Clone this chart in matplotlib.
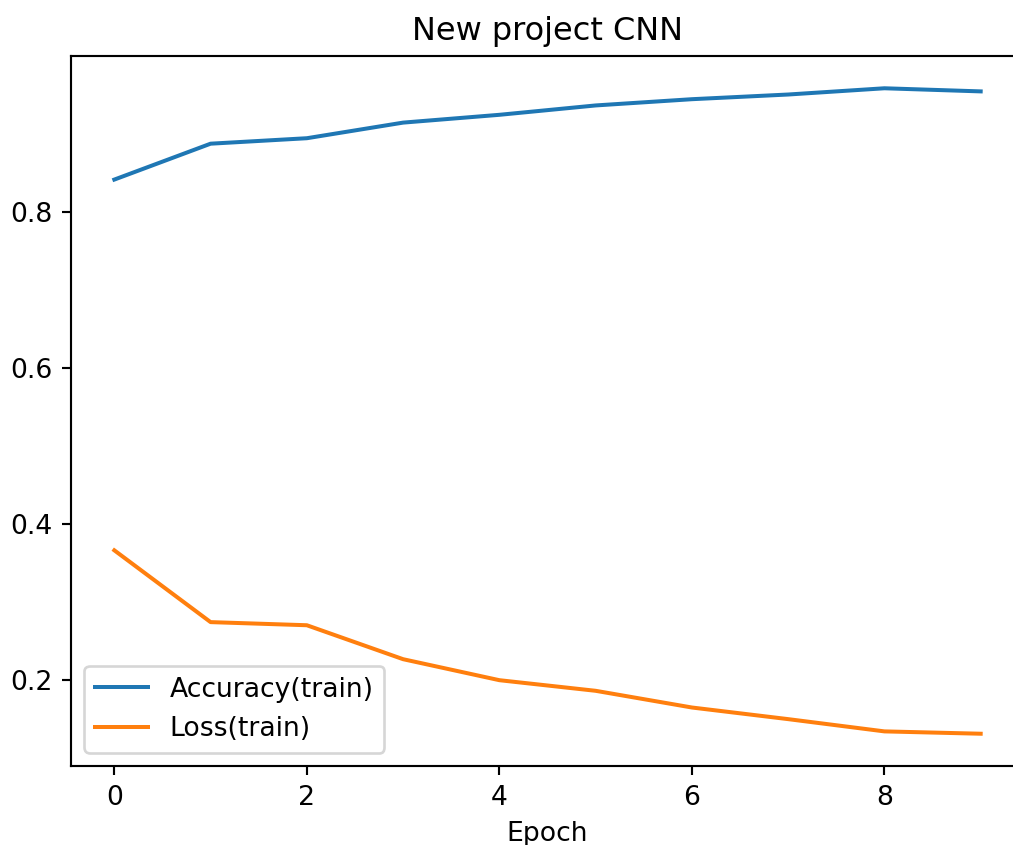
import matplotlib
matplotlib.use("Agg")
import matplotlib.pyplot as plt

epochs = [0, 1, 2, 3, 4, 5, 6, 7, 8, 9]
accuracy = [0.841, 0.887, 0.894, 0.914, 0.924, 0.936, 0.944, 0.950, 0.958, 0.954]
loss = [0.366, 0.274, 0.270, 0.2265, 0.1996, 0.186, 0.1646, 0.1497, 0.134, 0.131]

DPI = 192
W, H = 1013, 845
fig = plt.figure(figsize=(W / DPI, H / DPI), dpi=DPI)
left, right, top, bottom = 71, 1024, 56, 766
ax = fig.add_axes([left / W, (H - bottom) / H, (right - left) / W, (bottom - top) / H])

ax.plot(epochs, accuracy, label="Accuracy(train)")
ax.plot(epochs, loss, label="Loss(train)")
ax.set_title("New project CNN")
ax.set_xlabel("Epoch")
ax.legend(loc="lower left")

fig.savefig("out.png", dpi=DPI)
